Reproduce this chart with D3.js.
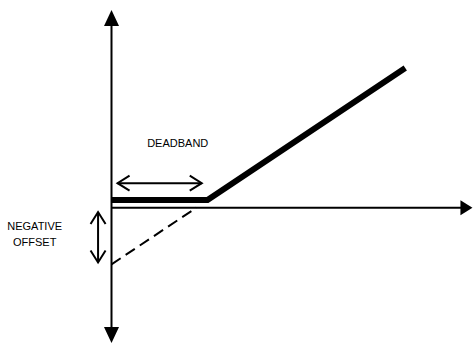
<!DOCTYPE html>
<html><head><meta charset="utf-8">
<script src="https://cdn.jsdelivr.net/npm/d3@7"></script>
<style>html,body{margin:0;padding:0;background:#fff;overflow:hidden}</style>
</head><body>
<svg id="c" width="473" height="343"></svg>
<script>
// Diagram data (logical units: deadband width = 1)
const outputX = [0, 1, 3.06];          // thick output line
const outputY = [0.08, 0.08, 1.455];
const offsetX = [0, 0.885];            // dashed extension
const offsetY = [-0.59, 0];
const axisX = [0, 3.76];               // horizontal axis extent
const axisY = [2.06, -1.41];           // vertical axis extent (top, bottom)
const deadbandArrowX = [0.063, 0.94];
const deadbandArrowY = 0.255;
const offsetArrowX = -0.14;
const offsetArrowY = [-0.045, -0.57];
const labels = [
  {lines: ["DEADBAND"], x: 0.69, y: 0.63},
  {lines: ["NEGATIVE", "OFFSET"], x: -0.8, y: -0.235}
];

const svg = d3.select("#c");
const x = d3.scaleLinear().domain([0, 1]).range([111.5, 207.5]);
const y = d3.scaleLinear().domain([0, 1]).range([207.7, 111.7]);

// axes
svg.append("line").attr("x1", x(axisX[0])).attr("x2", x(axisX[1]) - 8)
  .attr("y1", y(0)).attr("y2", y(0)).attr("stroke", "#000").attr("stroke-width", 2);
svg.append("line").attr("x1", x(0)).attr("x2", x(0))
  .attr("y1", y(axisY[0]) + 8).attr("y2", y(axisY[1]) - 8).attr("stroke", "#000").attr("stroke-width", 2);

function tri(tx, ty, dir) {
  const L = 16, W = 7.5;
  let pts;
  if (dir === "up") pts = [[tx, ty], [tx - W, ty + L], [tx + W, ty + L]];
  if (dir === "down") pts = [[tx, ty], [tx - W, ty - L], [tx + W, ty - L]];
  if (dir === "right") pts = [[tx, ty], [tx - 12, ty - 7.5], [tx - 12, ty + 7.5]];
  svg.append("path").attr("d", d3.line()(pts) + "Z").attr("fill", "#000");
}
tri(x(0), y(axisY[0]), "up");
tri(x(0), y(axisY[1]), "down");
tri(x(axisX[1]), y(0), "right");

// dashed extension
svg.append("path")
  .attr("d", d3.line()(offsetX.map((v, i) => [x(v), y(offsetY[i])])))
  .attr("fill", "none").attr("stroke", "#000").attr("stroke-width", 2)
  .attr("stroke-dasharray", "11,6");

// thick output line
svg.append("path")
  .attr("d", d3.line()(outputX.map((v, i) => [x(v), y(outputY[i])])))
  .attr("fill", "none").attr("stroke", "#000").attr("stroke-width", 6)
  .attr("stroke-linejoin", "miter").attr("stroke-linecap", "butt");

// double-headed arrows (open chevrons)
function dbl(x1, y1, x2, y2) {
  const g = svg.append("g").attr("stroke", "#000").attr("stroke-width", 2)
    .attr("fill", "none").attr("stroke-linejoin", "miter");
  g.append("line").attr("x1", x1).attr("y1", y1).attr("x2", x2).attr("y2", y2);
  const a = Math.atan2(y2 - y1, x2 - x1), L = 12, W = 7.5;
  const head = (px, py, ang) => {
    const ux = Math.cos(ang), uy = Math.sin(ang);
    return [[px - ux * L - uy * W, py - uy * L + ux * W], [px, py], [px - ux * L + uy * W, py - uy * L - ux * W]];
  };
  g.append("path").attr("d", d3.line()(head(x2, y2, a)));
  g.append("path").attr("d", d3.line()(head(x1, y1, a + Math.PI)));
}
dbl(x(deadbandArrowX[0]), y(deadbandArrowY), x(deadbandArrowX[1]), y(deadbandArrowY));
dbl(x(offsetArrowX), y(offsetArrowY[0]), x(offsetArrowX), y(offsetArrowY[1]));

// labels
labels.forEach(l => {
  const t = svg.append("text").attr("x", x(l.x)).attr("y", y(l.y))
    .attr("text-anchor", "middle").attr("font-family", "Liberation Sans, Arial, sans-serif")
    .attr("font-size", 11).attr("fill", "#000");
  l.lines.forEach((s, i) => t.append("tspan").attr("x", x(l.x)).attr("dy", i ? 16 : 0).text(s));
});
</script>
</body></html>
